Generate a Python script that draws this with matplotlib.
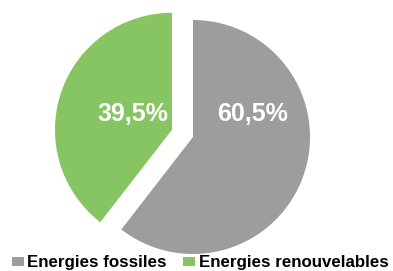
import matplotlib
matplotlib.use("Agg")
import matplotlib.pyplot as plt
from matplotlib.patches import Patch

categories = ["Energies fossiles", "Energies renouvelables"]
values = [60.5, 39.5]
colors = ["#9d9d9f", "#86c561"]
explode = [0.0, 0.19]

W, H = 393, 271
fig = plt.figure(figsize=(W / 100, H / 100), dpi=100)

R = 117.0
cx, cy = 193.0, 271 - 137.0
lim = 1.3
size = 2 * lim * R
ax = fig.add_axes([(cx - size / 2) / W, (cy - size / 2) / H, size / W, size / H])
wedges, _ = ax.pie(values, colors=colors, explode=explode, startangle=90,
                   counterclock=False, radius=1.0,
                   wedgeprops=dict(linewidth=0))
ax.set_xlim(-lim, lim)
ax.set_ylim(-lim, lim)
ax.set_aspect("equal")
ax.axis("off")

label_pos = [(0.51, 0.20), (-0.51, 0.20)]
for v, (x, y) in zip(values, label_pos):
    ax.text(x, y, f"{v:.1f}%".replace(".", ","), color="white",
            fontsize=18, fontweight="bold", family="Liberation Sans",
            ha="center", va="center")

handles = [Patch(facecolor=c, edgecolor="none") for c in colors]
fig.legend(handles, categories, loc="center", bbox_to_anchor=(200 / W, 1 - 263 / H),
           ncol=2, frameon=False, handlelength=0.72, handleheight=0.5,
           handletextpad=0.2, columnspacing=0.95,
           prop=dict(family="Liberation Sans", weight="bold", size=12.2))

fig.savefig("out.png", dpi=100)
